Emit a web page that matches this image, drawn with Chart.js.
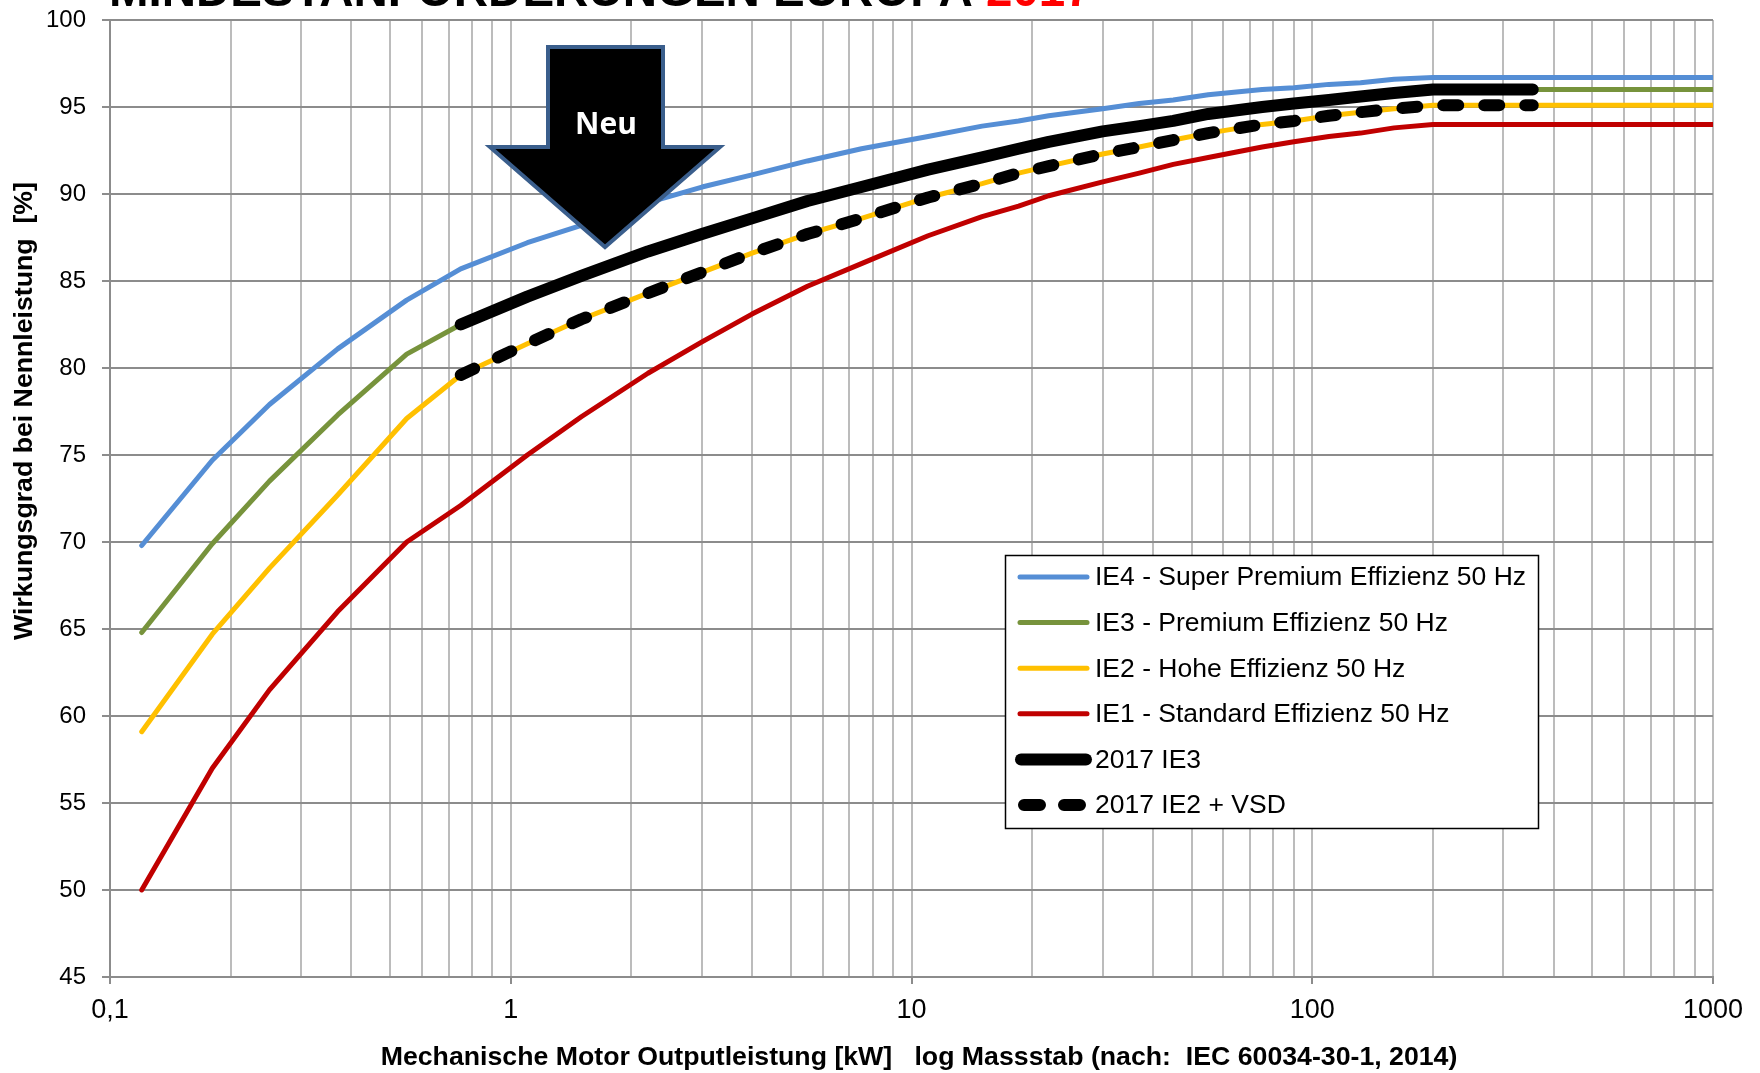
<!DOCTYPE html>
<html>
<head>
<meta charset="utf-8">
<script src="https://cdn.jsdelivr.net/npm/chart.js@4.4.1/dist/chart.umd.min.js"></script>
<style>
  html, body { margin: 0; padding: 0; background: #ffffff; }
  #wrap { width: 1760px; height: 1073px; }
</style>
</head>
<body>
<div id="wrap"><canvas id="c" width="1760" height="1073"></canvas></div>
<script>
// Rated output power [kW] (IEC 60034-30-1, 4-pole, 50 Hz)
const powerKW = [0.12, 0.18, 0.25, 0.37, 0.55, 0.75, 1.1, 1.5, 2.2, 3, 4, 5.5, 7.5, 11, 15, 18.5, 22, 30, 37, 45, 55, 75, 90, 110, 132, 160, 200, 1000];

// Minimum efficiency at rated load [%]
const ie4 = [69.8, 74.7, 77.9, 81.1, 83.9, 85.7, 87.2, 88.2, 89.5, 90.4, 91.1, 91.9, 92.6, 93.3, 93.9, 94.2, 94.5, 94.9, 95.2, 95.4, 95.7, 96.0, 96.1, 96.3, 96.4, 96.6, 96.7, 96.7];
const ie3 = [64.8, 69.9, 73.5, 77.3, 80.8, 82.5, 84.1, 85.3, 86.7, 87.7, 88.6, 89.6, 90.4, 91.4, 92.1, 92.6, 93.0, 93.6, 93.9, 94.2, 94.6, 95.0, 95.2, 95.4, 95.6, 95.8, 96.0, 96.0];
const ie2 = [59.1, 64.7, 68.5, 72.7, 77.1, 79.6, 81.4, 82.8, 84.3, 85.5, 86.6, 87.7, 88.6, 89.8, 90.6, 91.2, 91.6, 92.3, 92.7, 93.1, 93.5, 94.0, 94.2, 94.5, 94.7, 94.9, 95.1, 95.1];
const ie1 = [50.0, 57.0, 61.5, 66.0, 70.0, 72.1, 75.0, 77.2, 79.7, 81.5, 83.1, 84.7, 86.0, 87.6, 88.7, 89.3, 89.9, 90.7, 91.2, 91.7, 92.1, 92.7, 93.0, 93.3, 93.5, 93.8, 94.0, 94.0];

// 2017 requirements, 0.75 kW to 355 kW
const power2017 = [0.75, 1.1, 1.5, 2.2, 3, 4, 5.5, 7.5, 11, 15, 18.5, 22, 30, 37, 45, 55, 75, 90, 110, 132, 160, 200, 355];
const ie3From2017 = [82.5, 84.1, 85.3, 86.7, 87.7, 88.6, 89.6, 90.4, 91.4, 92.1, 92.6, 93.0, 93.6, 93.9, 94.2, 94.6, 95.0, 95.2, 95.4, 95.6, 95.8, 96.0, 96.0];
const ie2VsdFrom2017 = [79.6, 81.4, 82.8, 84.3, 85.5, 86.6, 87.7, 88.6, 89.8, 90.6, 91.2, 91.6, 92.3, 92.7, 93.1, 93.5, 94.0, 94.2, 94.5, 94.7, 94.9, 95.1, 95.1];

const seriesLabels = [
  'IE4 - Super Premium Effizienz 50 Hz',
  'IE3 - Premium Effizienz 50 Hz',
  'IE2 - Hohe Effizienz 50 Hz',
  'IE1 - Standard Effizienz 50 Hz',
  '2017 IE3',
  '2017 IE2 + VSD'
];

// Axis ticks
const xLabelTicks = [0.1, 1, 10, 100, 1000];
const xTickLabels = ['0,1', '1', '10', '100', '1000'];
const yMin = 45, yMax = 100, yStep = 5;

const chartTitle = 'MINDESTANFORDERUNGEN EUROPA ';
const chartTitleYear = '2017';
const xAxisTitle = 'Mechanische Motor Outputleistung [kW]   log Massstab (nach:  IEC 60034-30-1, 2014)';
const yAxisTitle = 'Wirkungsgrad bei Nennleistung  [%]';
const arrowText = 'Neu';

const FONT = '"Liberation Sans", Arial, sans-serif';

function toPoints(xs, ys) { return xs.map((x, i) => ({ x: x, y: ys[i] })); }

function isDecade(v) {
  const l = Math.log10(v);
  return Math.abs(l - Math.round(l)) < 1e-9;
}

// vertical grid: every 1..9 multiple of each decade
const xGridValues = [];
for (let e = -1; e < 3; e++) {
  for (let m = 1; m < 10; m++) xGridValues.push(m * Math.pow(10, e));
}
xGridValues.push(1000);

const lineBase = {
  pointRadius: 0, pointHoverRadius: 0, tension: 0, fill: false,
  borderCapStyle: 'round', borderJoinStyle: 'round'
};

const datasets = [
  Object.assign({ label: seriesLabels[0], data: toPoints(powerKW, ie4), borderColor: '#558ED5', borderWidth: 5, order: 0 }, lineBase),
  Object.assign({ label: seriesLabels[1], data: toPoints(powerKW, ie3), borderColor: '#77933C', borderWidth: 5, order: 0 }, lineBase),
  Object.assign({ label: seriesLabels[2], data: toPoints(powerKW, ie2), borderColor: '#FFC000', borderWidth: 5, order: 0 }, lineBase),
  Object.assign({ label: seriesLabels[3], data: toPoints(powerKW, ie1), borderColor: '#C00000', borderWidth: 5, order: 0 }, lineBase),
  Object.assign({ label: seriesLabels[4], data: toPoints(power2017, ie3From2017), borderColor: '#000000', borderWidth: 12, order: -1 }, lineBase),
  Object.assign({ label: seriesLabels[5], data: toPoints(power2017, ie2VsdFrom2017), borderColor: '#000000', borderWidth: 12, borderDash: [15, 26], order: -1 }, lineBase)
];

// Title, axis titles, arrow and framed legend drawn on the canvas
const decorations = {
  id: 'decorations',
  afterDraw(chart) {
    const ctx = chart.ctx;
    ctx.save();

    // chart title (top edge of the page)
    ctx.font = 'bold 47.5px ' + FONT;
    ctx.textBaseline = 'alphabetic';
    ctx.textAlign = 'left';
    ctx.fillStyle = '#000000';
    ctx.fillText(chartTitle, 109, 6);
    const tw = ctx.measureText(chartTitle).width;
    ctx.fillStyle = '#FF0000';
    ctx.fillText(chartTitleYear, 109 + tw, 6);

    // x axis title
    ctx.fillStyle = '#000000';
    ctx.font = 'bold 26.7px ' + FONT;
    ctx.textAlign = 'center';
    ctx.textBaseline = 'middle';
    ctx.fillText(xAxisTitle, 919, 1058);

    // y axis title
    ctx.save();
    ctx.translate(25, 411);
    ctx.rotate(-Math.PI / 2);
    ctx.font = 'bold 26.7px ' + FONT;
    ctx.fillText(yAxisTitle, 0, 0);
    ctx.restore();

    // "Neu" arrow
    ctx.beginPath();
    ctx.moveTo(548, 47);
    ctx.lineTo(663, 47);
    ctx.lineTo(663, 147);
    ctx.lineTo(720, 147);
    ctx.lineTo(605, 247);
    ctx.lineTo(490, 147);
    ctx.lineTo(548, 147);
    ctx.closePath();
    ctx.fillStyle = '#000000';
    ctx.fill();
    ctx.lineWidth = 4;
    ctx.lineJoin = 'miter';
    ctx.strokeStyle = '#3A5E8C';
    ctx.stroke();
    ctx.fillStyle = '#FFFFFF';
    ctx.font = 'bold 30px "Open Sans", ' + FONT;
    ctx.textAlign = 'center';
    ctx.textBaseline = 'middle';
    ctx.fillText(arrowText, 606, 125);

    // legend
    const lx = 1005.5, ly = 555.5, lw = 533, lh = 273;
    ctx.fillStyle = '#FFFFFF';
    ctx.fillRect(lx, ly, lw, lh);
    ctx.lineWidth = 1.5;
    ctx.strokeStyle = '#000000';
    ctx.strokeRect(lx, ly, lw, lh);
    ctx.font = '26.5px ' + FONT;
    ctx.textAlign = 'left';
    ctx.textBaseline = 'middle';
    chart.data.datasets.forEach((ds, i) => {
      const y = 577 + i * 45.6;
      ctx.save();
      ctx.beginPath();
      ctx.strokeStyle = ds.borderColor;
      ctx.lineWidth = ds.borderWidth;
      ctx.lineCap = 'round';
      if (ds.borderDash) {
        ctx.setLineDash([16, 24]);
        ctx.moveTo(1024, y);
        ctx.lineTo(1083, y);
      } else {
        ctx.moveTo(ds.borderWidth > 6 ? 1021 : 1020, y);
        ctx.lineTo(ds.borderWidth > 6 ? 1086 : 1087, y);
      }
      ctx.stroke();
      ctx.restore();
      ctx.fillStyle = '#000000';
      ctx.fillText(ds.label, 1095, y + 1);
    });

    ctx.restore();
  }
};

new Chart(document.getElementById('c'), {
  type: 'line',
  data: { datasets: datasets },
  plugins: [decorations],
  options: {
    responsive: false,
    devicePixelRatio: 1,
    animation: false,
    events: [],
    layout: { padding: { left: 0, top: 20, right: 47, bottom: 0 } },
    plugins: { legend: { display: false }, tooltip: { enabled: false }, title: { display: false } },
    scales: {
      x: {
        type: 'logarithmic',
        position: 'bottom',
        min: 0.1,
        max: 1000,
        afterFit(s) { s.height = 96; s.paddingLeft = 0; s.paddingRight = 0; },
        afterBuildTicks(s) { s.ticks = xGridValues.map(v => ({ value: v })); },
        ticks: {
          autoSkip: false, maxRotation: 0, minRotation: 0, padding: 10,
          color: '#000000',
          font: { family: FONT, size: 27 },
          callback(v) {
            const k = xLabelTicks.findIndex(t => Math.abs(Math.log10(t) - Math.log10(v)) < 1e-9);
            return k >= 0 ? xTickLabels[k] : '';
          }
        },
        grid: {
          color: '#BCBCBC',
          lineWidth: 2,
          tickLength: 7,
          tickColor: (c) => (c.tick && isDecade(c.tick.value)) ? '#8C8C8C' : 'rgba(0,0,0,0)'
        },
        border: { color: '#8C8C8C', width: 2 }
      },
      y: {
        min: yMin,
        max: yMax,
        afterFit(s) { s.width = 110; s.paddingTop = 0; s.paddingBottom = 0; },
        ticks: { stepSize: yStep, padding: 16, color: '#000000', font: { family: FONT, size: 24 } },
        grid: { color: '#8C8C8C', lineWidth: 2, tickLength: 8 },
        border: { color: '#8C8C8C', width: 2 }
      }
    }
  }
});
</script>
</body>
</html>
